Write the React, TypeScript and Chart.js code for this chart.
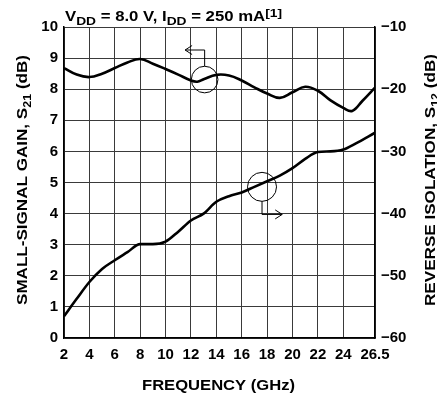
import React, { useEffect, useRef } from 'react';
import { Chart, registerables } from 'chart.js';

Chart.register(...registerables);

const FONT = '"Liberation Sans", Arial, Helvetica, sans-serif';

// Small-signal gain S21 (dB) vs frequency (GHz)
const gainFreq = [2, 3, 4, 5, 6, 7, 8, 9, 10, 11, 12, 12.5, 13, 14, 15, 16, 17, 18, 19, 20, 21, 22, 23, 24, 24.7, 25.5, 26.5];
const gainDb = [8.68, 8.47, 8.39, 8.5, 8.68, 8.86, 8.97, 8.82, 8.65, 8.47, 8.28, 8.24, 8.32, 8.46, 8.44, 8.28, 8.06, 7.86, 7.72, 7.9, 8.08, 7.95, 7.64, 7.4, 7.3, 7.62, 8.05];

// Reverse isolation S12 (dB) vs frequency (GHz)
const isoFreq = [2, 3, 4, 5, 6, 7, 8, 9, 10, 11, 12, 13, 14, 15, 16, 17, 18, 19, 20, 21, 22, 23, 24, 25, 26.5];
const isoDb = [-56.5, -53.7, -51.0, -48.9, -47.5, -46.2, -44.9, -44.9, -44.5, -42.9, -41.1, -40.0, -38.1, -37.2, -36.6, -35.7, -34.8, -33.9, -32.7, -31.2, -30.1, -30.0, -29.7, -28.7, -27.0];

const xTicks = [2, 4, 6, 8, 10, 12, 14, 16, 18, 20, 22, 24, 26.5];

const titleText = [
  { t: 'V', size: 14, dy: 0 },
  { t: 'DD', size: 11.5, dy: 4 },
  { t: ' = 8.0 V, I', size: 14, dy: 0 },
  { t: 'DD', size: 11.5, dy: 4 },
  { t: ' = 250 mA', size: 14, dy: 0 },
  { t: '[1]', size: 11.5, dy: -4 },
];
const leftTitle = [
  { t: 'SMALL-SIGNAL GAIN, S', size: 15, dy: 0 },
  { t: '21', size: 11, dy: 3.5 },
  { t: ' (dB)', size: 15, dy: 0 },
];
const rightTitle = [
  { t: 'REVERSE ISOLATION, S', size: 15, dy: 0 },
  { t: '12', size: 11, dy: 3.5 },
  { t: ' (dB)', size: 15, dy: 0 },
];
const xTitle = [{ t: 'FREQUENCY (GHz)', size: 15, dy: 0 }];

// annotation markers (in data units)
const gainMarker = { x: 13.08, y: 8.31, r: 13.3, elbowY: 9.26, tipX: 11.54 };
const isoMarker = { x: 17.6, y: -35.7, r: 14.5, elbowY: -40.13, tipX: 19.19 };

type Seg = { t: string; size: number; dy: number };

function drawRich(ctx: CanvasRenderingContext2D, segs: Seg[], x: number, y: number, rot: number, targetW: number) {
  ctx.save();
  let w = 0;
  for (const s of segs) {
    ctx.font = `bold ${s.size}px ${FONT}`;
    w += ctx.measureText(s.t).width;
  }
  const sx = targetW / w;
  ctx.translate(x, y);
  ctx.rotate(rot);
  ctx.scale(sx, 1);
  ctx.fillStyle = '#000';
  ctx.textBaseline = 'alphabetic';
  ctx.textAlign = 'left';
  let cx = -w / 2;
  for (const s of segs) {
    ctx.font = `bold ${s.size}px ${FONT}`;
    ctx.fillText(s.t, cx, s.dy);
    cx += ctx.measureText(s.t).width;
  }
  ctx.restore();
}

const decorPlugin = {
  id: 'decor',
  afterDraw(chart: any) {
    const ctx: CanvasRenderingContext2D = chart.ctx;
    const xs = chart.scales.x;
    const ys = chart.scales.y;
    const y1 = chart.scales.y1;

    drawRich(ctx, titleText, 173.5, 20.5, 0, 217);
    drawRich(ctx, xTitle, 218.5, 390, 0, 153);
    drawRich(ctx, leftTitle, 27, 180, -Math.PI / 2, 250);
    drawRich(ctx, rightTitle, 435, 180, -Math.PI / 2, 252);

    ctx.save();
    ctx.strokeStyle = '#000';
    ctx.lineWidth = 1;
    {
      const cx = xs.getPixelForValue(gainMarker.x);
      const cy = ys.getPixelForValue(gainMarker.y);
      const ey = ys.getPixelForValue(gainMarker.elbowY);
      const tx = xs.getPixelForValue(gainMarker.tipX);
      ctx.beginPath();
      ctx.arc(cx, cy, gainMarker.r, 0, Math.PI * 2);
      ctx.stroke();
      ctx.beginPath();
      ctx.moveTo(cx, cy - gainMarker.r);
      ctx.lineTo(cx, ey);
      ctx.lineTo(tx, ey);
      ctx.moveTo(tx + 7, ey - 4.5);
      ctx.lineTo(tx, ey);
      ctx.lineTo(tx + 7, ey + 4.5);
      ctx.stroke();
    }
    {
      const cx = xs.getPixelForValue(isoMarker.x);
      const cy = y1.getPixelForValue(isoMarker.y);
      const ey = y1.getPixelForValue(isoMarker.elbowY);
      const tx = xs.getPixelForValue(isoMarker.tipX);
      ctx.beginPath();
      ctx.arc(cx, cy, isoMarker.r, 0, Math.PI * 2);
      ctx.stroke();
      ctx.beginPath();
      ctx.moveTo(cx, cy + isoMarker.r);
      ctx.lineTo(cx, ey);
      ctx.lineTo(tx, ey);
      ctx.moveTo(tx - 7, ey - 4.5);
      ctx.lineTo(tx, ey);
      ctx.lineTo(tx - 7, ey + 4.5);
      ctx.stroke();
    }
    ctx.restore();
  },
};

const GRID = '#3a3a3a';
const tickFont = { family: FONT, size: 15, weight: 'bold' as const };

export default function App() {
  const ref = useRef<HTMLCanvasElement>(null);
  useEffect(() => {
    const canvas = ref.current!;
    const chart = new Chart(canvas, {
      type: 'line',
      data: {
        datasets: [
          {
            label: 'S21',
            data: gainFreq.map((f, i) => ({ x: f, y: gainDb[i] })),
            yAxisID: 'y',
            borderColor: '#000',
            borderWidth: 2.6,
            pointRadius: 0,
            tension: 0.4,
            fill: false,
          },
          {
            label: 'S12',
            data: isoFreq.map((f, i) => ({ x: f, y: isoDb[i] })),
            yAxisID: 'y1',
            borderColor: '#000',
            borderWidth: 2.6,
            pointRadius: 0,
            cubicInterpolationMode: 'monotone',
            fill: false,
          },
        ],
      },
      options: {
        responsive: false,
        animation: false,
        layout: { padding: { top: 27, left: 0, right: 0, bottom: 0 } },
        plugins: {
          legend: { display: false },
          tooltip: { enabled: false },
          title: { display: false },
        },
        scales: {
          x: {
            type: 'linear',
            min: 2,
            max: 26.5,
            afterBuildTicks: (s: any) => {
              s.ticks = xTicks.map((v) => ({ value: v }));
            },
            afterFit: (s: any) => {
              s.height = 60;
            },
            grid: { color: GRID, lineWidth: 1, drawTicks: false },
            border: { color: '#000', width: 1.5 },
            ticks: {
              color: '#000',
              font: tickFont,
              padding: 8,
              maxRotation: 0,
              autoSkip: false,
              callback: (v: any) => String(v),
            },
          },
          y: {
            position: 'left',
            min: 0,
            max: 10,
            afterFit: (s: any) => {
              s.width = 64;
            },
            grid: { color: GRID, lineWidth: 1, drawTicks: false },
            border: { color: '#000', width: 1.5 },
            ticks: { color: '#000', font: tickFont, stepSize: 1, padding: 6 },
          },
          y1: {
            position: 'right',
            min: -60,
            max: -10,
            afterFit: (s: any) => {
              s.width = 62;
            },
            grid: { display: false, drawTicks: false },
            border: { color: '#000', width: 1.5 },
            ticks: {
              color: '#000',
              font: tickFont,
              stepSize: 10,
              padding: 6,
              callback: (v: any) => String(v).replace('-', '\u2212'),
            },
          },
        },
      },
      plugins: [decorPlugin],
    } as any);
    return () => chart.destroy();
  }, []);

  return (
    <div style={{ position: 'absolute', left: 0, top: 0, width: 437, height: 398, background: '#fff' }}>
      <canvas ref={ref} width={437} height={398} style={{ display: 'block' }} />
    </div>
  );
}
